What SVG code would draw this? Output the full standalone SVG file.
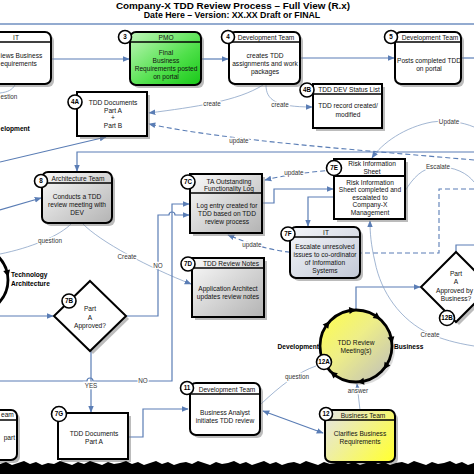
<svg xmlns="http://www.w3.org/2000/svg" width="474" height="474" viewBox="0 0 474 474">
<defs>
<style>
text{font-family:"Liberation Sans",Arial,sans-serif}
.box{stroke:#000;stroke-width:2}
.hl{stroke:#000;stroke-width:1.4}
.sh{fill:#7a7a7a;opacity:.5}
.t{font-size:6.6px;fill:#111;text-anchor:middle}
.ts{font-size:6.6px;fill:#111}
.num{font-size:6.3px;font-weight:bold;text-anchor:middle;fill:#000}
.nc{fill:#fff;stroke:#000;stroke-width:1.6}
.c{fill:none;stroke:#5a7db5;stroke-width:1.2}
.thin{fill:none;stroke:#8aa3c6;stroke-width:.8}
.dash{fill:none;stroke:#5a7db5;stroke-width:1.1;stroke-dasharray:5 3}
.lbl{font-size:6.3px;fill:#333;text-anchor:middle;stroke:#fff;stroke-width:2.5;paint-order:stroke}
.bl{font-size:6.6px;font-weight:bold;fill:#000}
.ring{fill:none;stroke:#000;stroke-width:2.8}
</style>
<marker id="a" viewBox="0 0 10 10" refX="9" refY="5" markerWidth="7" markerHeight="7" markerUnits="userSpaceOnUse" orient="auto-start-reverse"><path d="M0,1 L10,5 L0,9z" fill="#5a7db5"/></marker>
<linearGradient id="gGray" x1="0" y1="0" x2="1" y2="1"><stop offset="0" stop-color="#fafafa"/><stop offset="1" stop-color="#b3b3b3"/></linearGradient>
<linearGradient id="gGreen" x1="0" y1="0" x2="1" y2="1"><stop offset="0" stop-color="#c2f7bb"/><stop offset=".6" stop-color="#4fe04a"/><stop offset="1" stop-color="#18c818"/></linearGradient>
<linearGradient id="gYellow" x1="0" y1="0.2" x2="1" y2="0.8"><stop offset="0" stop-color="#e6e6da"/><stop offset="1" stop-color="#ffff3a"/></linearGradient>
<linearGradient id="gBlue" x1="0" y1="0" x2="1" y2="1"><stop offset="0" stop-color="#f4f6fa"/><stop offset="1" stop-color="#c3c9d6"/></linearGradient>
<linearGradient id="gMeet" x1="0" y1="0" x2="1" y2="1"><stop offset="0" stop-color="#ffff4a"/><stop offset=".45" stop-color="#eeee88"/><stop offset="1" stop-color="#bdbdbd"/></linearGradient>
<path id="ah" d="M-3.5,-3 L3.5,-3 L0,4z" fill="#000"/>
</defs>
<rect width="474" height="474" fill="#fff"/>

<g id="title">
<text x="233" y="9" font-size="9.9" font-weight="bold" text-anchor="middle">Company-X TDD Review Process – Full View (R.x)</text>
<text x="232" y="18" font-size="8.8" font-weight="bold" text-anchor="middle">Date Here – Version: XX.XX Draft or FINAL</text>
<line x1="0" y1="24" x2="474" y2="24" stroke="#6f8fc0" stroke-width="1.3"/>
</g>

<g id="connectors">
<path class="c" d="M51,59 L129,59" marker-end="url(#a)"/>
<path class="c" d="M201,59 L228,59" marker-end="url(#a)"/>
<path class="c" d="M300,58 L394,58" marker-end="url(#a)"/>
<path class="c" d="M461,58 L474,58"/>
<path class="thin" d="M263,85 C 238,101 195,107 149,113" marker-end="url(#a)"/>
<text class="lbl" x="212" y="106">create</text>
<path class="thin" d="M266,85 C 266,100 276,107 312,107" marker-end="url(#a)"/>
<text class="lbl" x="280" y="107">create</text>
<path class="dash" d="M474,160 C 360,150 230,141 149,124" marker-end="url(#a)"/>
<text class="lbl" x="239" y="143">update</text>
<path class="c" d="M474,152 L77,152 L77,171" marker-end="url(#a)"/>
<path class="c" d="M0,162 L106,137" marker-end="url(#a)"/>
<path class="c" d="M0,210 L41,198" marker-end="url(#a)"/>
<path class="thin" d="M15,85 C 12,90 8,92 0,93"/>
<text class="lbl" x="0.5" y="99" style="text-anchor:start">estion</text>
<text class="bl" x="0.5" y="131">elopment</text>
<path class="thin" d="M72,223 C 60,236 30,248 0,254"/>
<text class="lbl" x="50" y="243">question</text>
<path class="thin" d="M82,223 C 100,242 150,268 191,284" marker-end="url(#a)"/>
<text class="lbl" x="127" y="259">Create</text>
<path class="c" d="M0,316 L53,316" marker-end="url(#a)"/>
<path class="c" d="M126,316 L158,316 L158,215 L169,215 A3,3 0 0 1 175,215 L189,215" marker-end="url(#a)"/>
<text class="lbl" x="158" y="268">NO</text>
<path class="c" d="M0,381 L87,381 A3,3 0 0 1 93,381 L172,381 L172,204 L189,204" marker-end="url(#a)"/>
<text class="lbl" x="143" y="383">NO</text>
<path class="c" d="M91,351 L91,412" marker-end="url(#a)"/>
<text class="lbl" x="91" y="388">YES</text>
<path class="c" d="M128,437 L143,437 L143,409 L188,409" marker-end="url(#a)"/>
<path class="c" d="M263,411 L323,433" marker-start="url(#a)" marker-end="url(#a)"/>
<path class="thin" d="M261,404 C 280,386 298,372 316,366"/>
<text class="lbl" x="297" y="379">question</text>
<path class="thin" d="M360,410 L357,384" marker-end="url(#a)"/>
<text class="lbl" x="358" y="393">answer</text>
<path class="c" d="M356,310 L356,287 L420,287" marker-end="url(#a)"/>
<path class="c" d="M456,252 L456,245 L474,245"/>
<path class="c" d="M262,203 L274,203 L274,189 L333,189" marker-end="url(#a)"/>
<path class="c" d="M334,197 L308,197 L308,226" marker-end="url(#a)"/>
<path class="dash" d="M333,170 C 310,172 285,175 265,180" marker-end="url(#a)"/>
<text class="lbl" x="294" y="175">update</text>
<path class="dash" d="M474,189 L439,189 L439,253 L300,253 C 275,252 250,244 228,235" marker-end="url(#a)"/>
<text class="lbl" x="252" y="247">update</text>
<path class="thin" d="M474,127 C 462,122 448,120 432,122 C 405,127 382,143 372,158" marker-end="url(#a)"/>
<text class="lbl" x="449" y="124">Update</text>
<path class="thin" d="M405,191 C 413,178 422,168 436,167 C 455,166 468,174 474,182"/>
<text class="lbl" x="438" y="169">Escalate</text>
<path class="thin" d="M474,346 C 455,343 442,339 430,334 C 400,320 381,292 375,262 C 371,245 370,233 370,221" marker-end="url(#a)"/>
<text class="lbl" x="430" y="337">Create</text>
</g>

<g id="n-it">
<rect class="sh" x="-17" y="35" width="71" height="52" rx="6"/>
<rect class="box" x="-20" y="32" width="71" height="52" rx="6" fill="#fff"/>
<line class="hl" x1="-20" y1="42" x2="51" y2="42"/>
<text class="t" x="16" y="39.5">IT</text>
<text class="ts" x="0.5" y="57.5">iews Business</text>
<text class="ts" x="0.5" y="65.5">equirements</text>
</g>
<g id="n-3">
<rect class="sh" x="133" y="35" width="71" height="53" rx="6"/>
<rect class="box" x="130" y="32" width="71" height="53" rx="6" fill="url(#gGreen)"/>
<line class="hl" x1="130" y1="42" x2="201" y2="42"/>
<text class="t" x="166" y="39.7">PMO</text>
<text class="t" x="166" y="54.5">Final</text>
<text class="t" x="166" y="62.5">Business</text>
<text class="t" x="166" y="70.5">Requirements posted</text>
<text class="t" x="166" y="78.5">on portal</text>
<circle class="nc" cx="125" cy="37" r="6.5"/><text class="num" x="125" y="39.3">3</text>
</g>
<g id="n-4">
<rect class="sh" x="232" y="35" width="71" height="52" rx="6"/>
<rect class="box" x="229" y="32" width="71" height="52" rx="6" fill="#fff"/>
<line class="hl" x1="229" y1="42" x2="300" y2="42"/>
<text class="t" x="266" y="39.7">Development Team</text>
<text class="t" x="265" y="57.5">creates TDD</text>
<text class="t" x="265" y="65.5">assignments and work</text>
<text class="t" x="265" y="73.5">packages</text>
<circle class="nc" cx="228" cy="37" r="6.5"/><text class="num" x="228" y="39.3">4</text>
</g>
<g id="n-5">
<rect class="sh" x="398" y="35" width="66" height="52" rx="6"/>
<rect class="box" x="395" y="32" width="66" height="52" rx="6" fill="#fff"/>
<line class="hl" x1="395" y1="42" x2="461" y2="42"/>
<text class="t" x="430" y="39.7">Development Team</text>
<text class="t" x="429" y="63">Posts completed TDD</text>
<text class="t" x="429" y="71">on portal</text>
<circle class="nc" cx="391" cy="37" r="6.5"/><text class="num" x="391" y="39.3">5</text>
</g>
<g id="n-4a">
<rect class="sh" x="80" y="95" width="70" height="44"/>
<rect class="box" x="77" y="92" width="70" height="44" fill="#fff"/>
<text class="t" x="113" y="104.5">TDD Documents</text>
<text class="t" x="113" y="112.5">Part A</text>
<text class="t" x="113" y="119.5">+</text>
<text class="t" x="113" y="127.5">Part B</text>
<circle class="nc" cx="75" cy="102" r="7"/><text class="num" x="75" y="104.3">4A</text>
</g>
<g id="n-4b">
<rect class="sh" x="316" y="87" width="69" height="44"/>
<rect class="box" x="313" y="84" width="69" height="44" fill="#fff"/>
<line class="hl" x1="313" y1="94" x2="382" y2="94"/>
<text class="t" x="349" y="91.5">TDD DEV Status List</text>
<text class="t" x="348" y="107.5">TDD record created/</text>
<text class="t" x="348" y="116.5">modified</text>
<circle class="nc" cx="307" cy="90" r="7"/><text class="num" x="307" y="92.3">4B</text>
</g>
<g id="n-8">
<rect class="sh" x="45" y="175" width="70" height="51" rx="6"/>
<rect class="box" x="42" y="172" width="70" height="51" rx="6" fill="url(#gGray)"/>
<line class="hl" x1="42" y1="183" x2="112" y2="183"/>
<text class="t" x="78" y="180.5">Architecture Team</text>
<text class="t" x="77" y="198.5">Conducts a TDD</text>
<text class="t" x="77" y="206.5">review meeting with</text>
<text class="t" x="77" y="214.5">DEV</text>
<circle class="nc" cx="41" cy="181" r="6.5"/><text class="num" x="41" y="183.3">8</text>
</g>
<g id="n-7c">
<rect class="sh" x="193" y="177" width="72" height="59"/>
<rect class="box" x="190" y="174" width="72" height="59" fill="url(#gGray)"/>
<line class="hl" x1="190" y1="193" x2="262" y2="193"/>
<text class="t" x="229" y="183.5">TA Outstanding</text>
<text class="t" x="229" y="190.5">Functionality Log</text>
<text class="t" x="227" y="207.5">Log entry created for</text>
<text class="t" x="227" y="215.5">TDD based on TDD</text>
<text class="t" x="227" y="224">review process</text>
<circle class="nc" cx="188" cy="182" r="7"/><text class="num" x="188" y="184.3">7C</text>
</g>
<g id="n-7d">
<rect class="sh" x="195" y="261" width="72" height="59"/>
<rect class="box" x="192" y="258" width="72" height="59" fill="url(#gGray)"/>
<line class="hl" x1="192" y1="268" x2="264" y2="268"/>
<text class="t" x="231" y="265.5">TDD Review Notes</text>
<text class="t" x="228" y="290.5">Application Architect</text>
<text class="t" x="228" y="298.5">updates review notes</text>
<circle class="nc" cx="188" cy="264" r="7"/><text class="num" x="188" y="266.3">7D</text>
</g>
<g id="n-7e">
<rect class="sh" x="337" y="162" width="71" height="60"/>
<rect class="box" x="334" y="159" width="71" height="60" fill="#fff" stroke-width="2.4"/>
<line x1="334" y1="176" x2="405" y2="176" stroke="#000" stroke-width="2"/>
<text class="t" x="372" y="165.5">Risk Information</text>
<text class="t" x="372" y="173.5">Sheet</text>
<text class="t" x="370" y="184.5">Risk Information</text>
<text class="t" x="370" y="192">Sheet completed and</text>
<text class="t" x="370" y="199.5">escalated to</text>
<text class="t" x="370" y="207">Company-X</text>
<text class="t" x="370" y="214.5">Management</text>
<circle class="nc" cx="334" cy="168" r="7.5"/><text class="num" x="334" y="170.3">7E</text>
</g>
<g id="n-7f">
<rect class="sh" x="293" y="230" width="70" height="51" rx="6"/>
<rect class="box" x="290" y="227" width="70" height="51" rx="6" fill="url(#gBlue)"/>
<line class="hl" x1="290" y1="237" x2="360" y2="237"/>
<text class="t" x="326" y="234.5">IT</text>
<text class="t" x="325" y="248.5">Escalate unresolved</text>
<text class="t" x="325" y="256.5">issues to co-ordinator</text>
<text class="t" x="325" y="264.5">of Information</text>
<text class="t" x="325" y="272.5">Systems</text>
<circle class="nc" cx="288" cy="234" r="7"/><text class="num" x="288" y="236.3">7F</text>
</g>
<g id="n-7b">
<polygon class="sh" points="93,284 129,319 93,354 57,319"/>
<polygon class="box" points="90,281 126,316 90,351 54,316" fill="#fff"/>
<text class="t" x="90" y="311">Part</text>
<text class="t" x="90" y="319.5">A</text>
<text class="t" x="90" y="327.5">Approved?</text>
<circle class="nc" cx="69" cy="301" r="7"/><text class="num" x="69" y="303.3">7B</text>
</g>
<g id="n-12b">
<polygon class="sh" points="459,255 494,290 459,325 424,290"/>
<polygon class="box" points="456,252 491,287 456,322 421,287" fill="#fff"/>
<text class="t" x="456" y="275.5">Part</text>
<text class="t" x="456" y="284">A</text>
<text class="t" x="454.5" y="292.5">Approved by</text>
<text class="t" x="456" y="300.5">Business?</text>
<circle class="nc" cx="447" cy="318" r="7.5"/><text class="num" x="447" y="320.3">12B</text>
</g>
<g id="n-techarch">
<circle class="ring" cx="-25" cy="280" r="33"/>
<g transform="translate(-25,280) rotate(-12) translate(33,0)"><use href="#ah"/></g>
<text class="bl" x="11" y="276.5">Technology</text>
<text class="bl" x="11" y="285.5">Architecture</text>
</g>
<g id="n-12a">
<circle cx="359" cy="349" r="36" fill="#999" opacity=".35"/>
<circle cx="356" cy="346" r="36" fill="url(#gMeet)"/>
<circle class="ring" cx="356" cy="346" r="36"/>
<g transform="translate(356,346)">
<g transform="rotate(-96) translate(36,0)"><use href="#ah"/></g>
<g transform="rotate(-54) translate(36,0)"><use href="#ah"/></g>
<g transform="rotate(-10) translate(36,0)"><use href="#ah"/></g>
<g transform="rotate(34) translate(36,0)"><use href="#ah"/></g>
<g transform="rotate(82) translate(36,0)"><use href="#ah"/></g>
<g transform="rotate(129) translate(36,0)"><use href="#ah"/></g>
<g transform="rotate(217) translate(36,0)"><use href="#ah"/></g>
</g>
<text class="t" x="356" y="344.5" font-size="7">TDD Review</text>
<text class="t" x="356" y="352.5" font-size="7">Meeting(s)</text>
<text class="bl" x="319" y="348.5" text-anchor="end">Development</text>
<text class="bl" x="394" y="348.5">Business</text>
<circle class="nc" cx="324" cy="362" r="7.5"/><text class="num" x="324" y="364.3">12A</text>
</g>
<g id="n-11">
<rect class="sh" x="193" y="386" width="70" height="52" rx="6"/>
<rect class="box" x="190" y="383" width="70" height="52" rx="6" fill="#fff"/>
<line class="hl" x1="190" y1="394" x2="260" y2="394"/>
<text class="t" x="227" y="391.5">Development Team</text>
<text class="t" x="225" y="414.5">Business Analyst</text>
<text class="t" x="225" y="422.5">initiates TDD review</text>
<circle class="nc" cx="187" cy="388" r="6.5"/><text class="num" x="187" y="390.3">11</text>
</g>
<g id="n-12">
<rect class="sh" x="328" y="413" width="70" height="52" rx="6"/>
<rect class="box" x="325" y="410" width="70" height="52" rx="6" fill="url(#gYellow)"/>
<line class="hl" x1="325" y1="420" x2="395" y2="420"/>
<text class="t" x="363" y="417.5">Business Team</text>
<text class="t" x="360" y="435.5">Clarifies Business</text>
<text class="t" x="360" y="443.5">Requirements</text>
<circle class="nc" cx="326" cy="414" r="6.5"/><text class="num" x="326" y="416.3">12</text>
</g>
<g id="n-bl">
<rect class="sh" x="-47" y="413" width="67" height="50" rx="6"/>
<rect class="box" x="-50" y="410" width="67" height="50" rx="6" fill="#fff"/>
<line class="hl" x1="-50" y1="420" x2="17" y2="420"/>
<text class="ts" x="1" y="417.3">eam</text>
<text class="t" x="15" y="439.5" style="text-anchor:end">part</text>
</g>
<g id="n-7g">
<rect class="sh" x="61" y="416" width="70" height="46"/>
<rect class="box" x="58" y="413" width="70" height="46" fill="#fff"/>
<text class="t" x="94" y="435.5">TDD Documents</text>
<text class="t" x="94" y="443.5">Part A</text>
<circle class="nc" cx="59" cy="414" r="7.5"/><text class="num" x="59" y="416.3">7G</text>
</g>

<path id="torn" fill="#000" d="M0,464 L6,462 12,465 18,463 24,461 30,464 36,462 42,465 48,463 54,464 60,461 66,463 72,465 78,462 84,464 90,461 96,463 102,465 108,462 114,464 120,463 126,461 132,464 138,462 144,465 150,463 156,461 162,464 168,462 174,465 180,463 186,462 192,464 198,461 204,463 210,465 216,462 222,464 228,463 234,461 240,464 246,462 252,465 258,463 264,461 270,464 276,462 282,465 288,463 294,462 300,464 306,461 312,463 318,465 324,462 330,464 336,463 342,461 348,464 354,462 360,465 366,463 372,461 378,464 384,462 390,465 396,463 402,462 408,464 414,461 420,463 426,465 432,462 438,464 444,463 450,461 456,464 462,462 468,465 474,463 474,474 0,474z"/>
</svg>
